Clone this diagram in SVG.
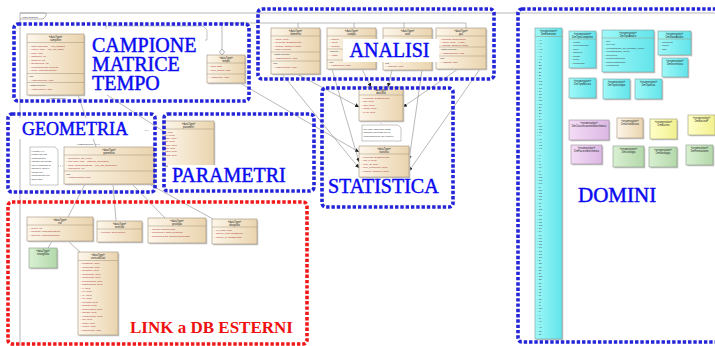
<svg xmlns="http://www.w3.org/2000/svg" width="715" height="346" viewBox="0 0 715 346">
<defs>
<linearGradient id="gB" x1="0" y1="0" x2="1" y2="0"><stop offset="0" stop-color="#fdf6ea"/><stop offset="1" stop-color="#ead4ae"/></linearGradient>
<linearGradient id="gC" x1="0" y1="0" x2="1" y2="0"><stop offset="0" stop-color="#9ff8f8"/><stop offset="1" stop-color="#62e4ea"/></linearGradient>
<linearGradient id="gP" x1="0" y1="0" x2="1" y2="0"><stop offset="0" stop-color="#f3dcf5"/><stop offset="1" stop-color="#dcb8e4"/></linearGradient>
<linearGradient id="gY" x1="0" y1="0" x2="1" y2="0"><stop offset="0" stop-color="#ffffc8"/><stop offset="1" stop-color="#f2f08e"/></linearGradient>
<linearGradient id="gG" x1="0" y1="0" x2="1" y2="0"><stop offset="0" stop-color="#d8f0d2"/><stop offset="1" stop-color="#b4d8aa"/></linearGradient>
<marker id="ar" viewBox="0 0 6 6" refX="6" refY="3" markerWidth="4" markerHeight="4" markerUnits="userSpaceOnUse" orient="auto"><path d="M0,0L6,3L0,6z" fill="#222"/></marker>
<style>
.box{fill:url(#gB);stroke:#a09078;stroke-width:.6}
.cy{fill:url(#gC);stroke:#7f9c9c;stroke-width:.6}
.pk{fill:url(#gP);stroke:#9a8a9a;stroke-width:.6}
.yl{fill:url(#gY);stroke:#9a9a7a;stroke-width:.6}
.gr{fill:url(#gG);stroke:#8a9a8a;stroke-width:.6}
.sh{fill:#c6c6c6}
.note{fill:#fff;stroke:#888;stroke-width:.5}
.st{font-family:"Liberation Sans",sans-serif;font-size:2.6px;fill:#222;text-anchor:middle}
.at{font-family:"Liberation Sans",sans-serif;font-size:2.5px;fill:#a83232}
.nt{font-family:"Liberation Sans",sans-serif;font-size:2.5px;fill:#333}
.sp{stroke:#a09078;stroke-width:.5}
.z{fill:none;stroke:#2424d8;stroke-width:3.6;stroke-dasharray:3.4 1.9}
.zr{fill:none;stroke:#f01818;stroke-width:3.6;stroke-dasharray:3.4 1.9}
.lb{font-family:"Liberation Serif",serif;font-size:20px;fill:#0a0af0;stroke:#0a0af0;stroke-width:.45}
.lr{font-family:"Liberation Serif",serif;font-size:17px;font-weight:bold;fill:#ee1010}
.wb{fill:#fff}
.cn{fill:none;stroke:#8a8a8a;stroke-width:.6}
.dl{fill:none;stroke:#8a8a8a;stroke-width:.5;stroke-dasharray:1 1}
.fr{fill:none;stroke:#9a9a9a;stroke-width:.7}
</style>
</defs>
<rect width="715" height="346" fill="#fff"/>

<g id="frame">
<path class="fr" d="M20,346V13H715"/>
<path class="fr" d="M20,13h26v3l-3,3h-23"/>
<text x="22" y="17.5" class="nt">class gestione</text>
</g>

<g id="connectors">
<path class="cn" d="M222,49V23H466"/>
<path class="cn" d="M298,23V28M354,23V28M404,23V28M466,23V28"/>
<polygon points="222,49 224.5,52 222,55 219.5,52" fill="#fff" stroke="#777" stroke-width=".6"/>
<path class="cn" d="M78,95L96,147"/>
<path class="cn" d="M107,95L163,131"/>
<path class="cn" d="M240,83L359,152" marker-end="url(#ar)"/>
<path class="cn" d="M297,74L359,107" marker-end="url(#ar)"/>
<path class="cn" d="M282,74L359,168" marker-end="url(#ar)"/>
<path class="cn" d="M332,69L359,162" marker-end="url(#ar)"/>
<path class="cn" d="M362,69L371,87" marker-end="url(#ar)"/>
<path class="cn" d="M392,70L388,87" marker-end="url(#ar)"/>
<path class="cn" d="M422,70L409,160" marker-end="url(#ar)"/>
<path class="cn" d="M458,69L403,107" marker-end="url(#ar)"/>
<path class="cn" d="M480,69L409,171" marker-end="url(#ar)"/>
<path class="dl" d="M381,121V125"/>
<path class="dl" d="M58,166H64"/>
<path class="cn" d="M85,184L68,217M113,184L116,221M132,184L165,218M149,184L213,219"/>
<path class="cn" d="M52,241L48,248M68,241L80,252"/>
</g>

<g id="campione">
<rect class="sh" x="28.3" y="35.3" width="57" height="61"/>
<rect class="box" x="27" y="34" width="57" height="61"/>
<text class="st" x="55.5" y="37.6">«dataType»</text>
<text class="st" x="55.5" y="40.8">campione</text>
<path class="sp" d="M27,42.5H84M27,73.5H84M27,82.5H84"/>
<text class="at" x="29" y="46.5">+ data: DateTime = cod_dataset</text>
<text class="at" x="29" y="50">+ codice: char = cod_cls_datas...</text>
<text class="at" x="29" y="53.5">+ peso: char</text>
<text class="at" x="29" y="57">+ dataInizio: int</text>
<text class="at" x="29" y="60.5">+ dataFine: int</text>
<text class="at" x="29" y="64">+ IDcampione: int</text>
<text class="at" x="29" y="67.5">+ riconoscimento: boolean</text>
<text class="at" x="29" y="71">+ nome: CharacterString</text>
<text class="nt" x="29" y="77">xsd:</text>
<text class="at" x="29" y="80.5">+ XSDcampione: char</text>
<text class="nt" x="29" y="86">«datatypeProp»</text>
<text class="at" x="29" y="89.5">+ XSDtematico: char</text>
<text class="nt" x="48" y="99">«XSDsequence»</text>
<text class="nt" x="80" y="99">0..*</text>
</g>

<g id="notaCampione">
<path class="note" d="M106,26H203L207,30V40H106Z"/>
</g>

<g id="tempo">
<rect class="sh" x="208.3" y="56.3" width="38" height="28"/>
<rect class="box" x="207" y="55" width="38" height="28"/>
<text class="st" x="226" y="58.6">«dataType»</text>
<text class="st" x="226" y="61.6">tempo</text>
<path class="sp" d="M207,63H245M207,74H245"/>
<text class="at" x="208.5" y="67">+ data: Date</text>
<text class="at" x="208.5" y="70.5">+ rrum_analisi: char</text>
<text class="at" x="208.5" y="78">+ XSDtempo: char</text>
</g>

<g id="elemento">
<rect class="sh" x="272.3" y="29.3" width="49" height="46"/>
<rect class="box" x="271" y="28" width="49" height="46"/>
<text class="st" x="295.5" y="31.6">«dataType»</text>
<text class="st" x="295.5" y="34.6">elemento</text>
<path class="sp" d="M271,36H320M271,52H320M271,61H320"/>
<text class="at" x="273" y="39.5">+ valore: Real</text>
<text class="at" x="273" y="43">+ elemento: DmElemento</text>
<text class="at" x="273" y="46.5">+ metodo: DmTipoAnalisi</text>
<text class="at" x="273" y="50">+ unita: boolean</text>
<text class="nt" x="273" y="55">«datatypeProp»</text>
<text class="at" x="273" y="58.5">+ XSDsequence: char</text>
<text class="nt" x="273" y="64">xsd:</text>
<text class="at" x="273" y="67.5">+ XSDelemento: char</text>
</g>

<g id="isotopo">
<rect class="sh" x="328.3" y="29.3" width="49" height="41"/>
<rect class="box" x="327" y="28" width="49" height="41"/>
<text class="st" x="351.5" y="31.6">«dataType»</text>
<text class="st" x="351.5" y="34.6">isotopo</text>
<path class="sp" d="M327,36H376M327,49H376M327,60H376"/>
<text class="at" x="329" y="39.5">+ isotopo</text>
<text class="at" x="329" y="43">+ valore</text>
<text class="at" x="329" y="46.5">+ metodo</text>
<text class="nt" x="329" y="52">«dtProp»</text>
<text class="at" x="329" y="55.5">+ XSDs</text>
<text class="nt" x="329" y="63">xsd:</text>
<text class="at" x="329" y="66.3">+ XSDisotopo: char</text>
</g>

<g id="ratio">
<rect class="sh" x="384.3" y="29.3" width="49" height="42"/>
<rect class="box" x="383" y="28" width="49" height="42"/>
<text class="st" x="407.5" y="31.6">«dataType»</text>
<text class="st" x="407.5" y="34.6">ratio</text>
<path class="sp" d="M383,36H432M383,61H432"/>
<text class="nt" x="385" y="64">xsd:</text>
<text class="at" x="385" y="67.3">+ XSDratio: char</text>
</g>

<g id="gas">
<rect class="sh" x="437.3" y="29.3" width="50" height="41"/>
<rect class="box" x="436" y="28" width="50" height="41"/>
<text class="st" x="461" y="31.6">«dataType»</text>
<text class="st" x="461" y="34.6">gas</text>
<path class="sp" d="M436,36H486M436,47H486M436,56H486"/>
<text class="at" x="440" y="39.5">+ tipoGas: DmTipoGas</text>
<text class="at" x="440" y="43">+ valore: Real = 1,gas</text>
<text class="at" x="440" y="46">+ metodo: DmTipoAnalisi</text>
<text class="nt" x="440" y="50">«datatypeProp»</text>
<text class="at" x="440" y="53.5">+ XSDsequence: char</text>
<text class="nt" x="440" y="59">xsd:</text>
<text class="at" x="440" y="62.5">+ XSDgas: char</text>
</g>

<g id="datoStatistico">
<rect class="sh" x="360.3" y="88.3" width="44" height="34"/>
<rect class="box" x="359" y="87" width="44" height="34"/>
<text class="st" x="381" y="90.6">«dataType»</text>
<text class="st" x="381" y="93.6">datoStat</text>
<path class="sp" d="M359,95H403"/>
<text class="at" x="361" y="98.5">+ elemento: DmElemento</text>
<text class="at" x="361" y="102">+ min: Real</text>
<text class="at" x="361" y="105.5">+ max: Real</text>
<text class="at" x="361" y="109">+ media: Real</text>
<text class="at" x="361" y="112.5">+ MAD: Real</text>
</g>

<g id="notaStatistica">
<path class="note" d="M362,125H398L401,128V141H362Z"/>
<text class="nt" x="363.5" y="129.5">per ogni campione tratta</text>
<text class="nt" x="363.5" y="133">analitica calcolata per la</text>
<text class="nt" x="363.5" y="136.5">concentrazione del valore?</text>
</g>

<g id="datoRegressione">
<rect class="sh" x="360.3" y="147.3" width="50" height="31"/>
<rect class="box" x="359" y="146" width="50" height="31"/>
<text class="st" x="384" y="149.6">«dataType»</text>
<text class="st" x="384" y="152.6">statistica</text>
<path class="sp" d="M359,154H409"/>
<text class="at" x="361" y="157.5">+ elemento: DmElemento</text>
<text class="at" x="361" y="161">+ min_d: Real</text>
<text class="at" x="361" y="164.5">+ perc_dt: Real</text>
<text class="at" x="361" y="168">+ perc_fondovalle: Real</text>
<text class="at" x="361" y="171.5">+ metodo: DmTipoAnalisi</text>
</g>

<g id="notaGeometria">
<path class="note" d="M30,147H55L58,150V185H30Z"/>
<text class="nt" x="31.5" y="151.5">Il punto è (il</text>
<text class="nt" x="31.5" y="155">punto) ha una</text>
<text class="nt" x="31.5" y="158.5">informazione</text>
<text class="nt" x="31.5" y="162">rispetto alla quota</text>
<text class="nt" x="31.5" y="165.5">che in assenza di</text>
<text class="nt" x="31.5" y="169">altezza è nulla è</text>
<text class="nt" x="31.5" y="172.5">riferita per</text>
<text class="nt" x="31.5" y="176">informazione nel</text>
<text class="nt" x="31.5" y="179.5">DTM Stax</text>
</g>

<g id="geometria">
<rect class="sh" x="65.3" y="148.3" width="90" height="37"/>
<rect class="box" x="64" y="147" width="90" height="37"/>
<text class="st" x="109" y="150.6">«dataType»</text>
<text class="st" x="109" y="153.6">geometria</text>
<path class="sp" d="M64,155H154M64,171H154"/>
<text class="at" x="66" y="158.5">+ geometria: GM_Point</text>
<text class="at" x="66" y="162">+ Sys.SRS: char = sistema_geografico</text>
<text class="at" x="66" y="165.5">+ SRS: CharacterString = cod_srs_geografico</text>
<text class="at" x="66" y="169">+ estensione: int</text>
<text class="nt" x="66" y="174.5">xsd:</text>
<text class="at" x="66" y="178">+ XSDgeometria: char</text>
<text class="nt" x="76" y="145">«XSDsequence» 0..1</text>
</g>

<g id="parametri">
<rect class="sh" x="164.3" y="122.3" width="51" height="45"/>
<rect class="box" x="163" y="121" width="51" height="45"/>
<text class="st" x="188.5" y="124.6">«dataType»</text>
<text class="st" x="188.5" y="127.6">parametri</text>
<path class="sp" d="M163,129H214"/>
<text class="at" x="165" y="132.5">T: Real</text>
<text class="at" x="165" y="135.8">pH: Real</text>
<text class="at" x="165" y="139.1">TDS: Real</text>
<text class="at" x="165" y="142.4">Eh: Real</text>
<text class="at" x="165" y="145.7">ORP: Real</text>
<text class="at" x="165" y="149">DO: Real</text>
<text class="at" x="165" y="152.3">TOC: Real</text>
<text class="at" x="165" y="155.6">CO2: Real</text>
<text class="nt" x="145" y="131">0..*</text>
</g>

<g id="ext">
<rect class="sh" x="28.3" y="218.3" width="66" height="24"/>
<rect class="box" x="27" y="217" width="66" height="24"/>
<text class="st" x="60" y="220.6">«dataType»</text>
<text class="st" x="60" y="223.6">ext</text>
<path class="sp" d="M27,225H93"/>
<text class="at" x="29" y="228.5">+ pozzo: int</text>
<text class="at" x="29" y="232">+ sorgente: CharacterString</text>
<text class="at" x="29" y="235.5">+ stazione: CharacterString</text>
</g>

<g id="verticale">
<rect class="sh" x="98.3" y="222.3" width="45" height="21"/>
<rect class="box" x="97" y="221" width="45" height="21"/>
<text class="st" x="119.5" y="224.6">«dataType»</text>
<text class="st" x="119.5" y="227.6">verticale</text>
<path class="sp" d="M97,229H142"/>
<text class="at" x="99" y="233">+ verticale: DmVerticale</text>
</g>

<g id="geologia">
<rect class="sh" x="149.3" y="219.3" width="58" height="25"/>
<rect class="box" x="148" y="218" width="58" height="25"/>
<text class="st" x="177" y="221.6">«dataType»</text>
<text class="st" x="177" y="224.6">geologia</text>
<path class="sp" d="M148,226H206"/>
<text class="at" x="150" y="229.5">+ litologia: DmLitologia</text>
<text class="at" x="150" y="233">+ formazione: DmFormazione</text>
<text class="at" x="150" y="236.5">+ geomorfologia: DmGeomorfologia</text>
</g>

<g id="idrografia">
<rect class="sh" x="213.3" y="220.3" width="45" height="25"/>
<rect class="box" x="212" y="219" width="45" height="25"/>
<text class="st" x="234.5" y="222.6">«dataType»</text>
<text class="st" x="234.5" y="225.6">idrografia</text>
<path class="sp" d="M212,227H257"/>
<text class="at" x="214" y="230.5">+ id_corso: char</text>
<text class="at" x="214" y="234">+ bacino_prod: DmBacino</text>
<text class="at" x="214" y="237.5">+ bacino_pr: DmBacinoP</text>
</g>

<g id="stratigrafia">
<rect class="sh" x="30.3" y="249.3" width="28" height="20"/>
<rect class="gr" x="29" y="248" width="28" height="20"/>
<text class="st" x="43" y="252">«dataType»</text>
<text class="st" x="43" y="255">stratigrafia</text>
</g>

<g id="verticaleDati">
<rect class="sh" x="79.3" y="253.3" width="40" height="83"/>
<rect class="box" x="78" y="252" width="40" height="83"/>
<text class="st" x="98" y="255.6">«dataType»</text>
<text class="st" x="98" y="258.6">verticaleDati</text>
<path class="sp" d="M78,260.5H118"/>
<text class="at" x="80" y="264">+ pressione: Real</text>
<text class="at" x="80" y="267.5">+ profondita: Real</text>
<text class="at" x="80" y="271">+ spessore: Real</text>
<text class="at" x="80" y="274.5">+ quotaTetto: Real</text>
<text class="at" x="80" y="278">+ quotaLetto: Real</text>
<text class="at" x="80" y="281.5">+ permeabilita: Real</text>
<text class="at" x="80" y="285">+ trasmissivita: Real</text>
<text class="at" x="80" y="288.5">+ K: Real</text>
<text class="at" x="80" y="292">+ Kx: Real</text>
<text class="at" x="80" y="295.5">+ Ky: Real</text>
<text class="at" x="80" y="299">+ Kz: Real</text>
<text class="at" x="80" y="302.5">+ porosita: Real</text>
<text class="at" x="80" y="306">+ densita: Real</text>
<text class="at" x="80" y="309.5">+ temperatura: Real</text>
<text class="at" x="80" y="313">+ salinita: Real</text>
<text class="at" x="80" y="316.5">+ conducibilita: Real</text>
<text class="at" x="80" y="320">+ eta: Real</text>
<text class="at" x="80" y="323.5">+ strato: Real</text>
<text class="at" x="80" y="327">+ codice: char</text>
<text class="at" x="80" y="330.5">+ descrizione: char</text>
</g>

<g id="DmElemento">
<rect class="sh" x="536.3" y="29.3" width="27" height="311"/>
<rect class="cy" x="535" y="28" width="27" height="311"/>
<text class="st" x="548.5" y="31.5">«enumeration»</text>
<text class="st" x="548.5" y="34.5">DmElemento</text>
<path class="sp" d="M535,36.5H562"/>
<text class="nt" x="537" y="40.5" style="font-size:2.3px"><tspan x="537" dy="0">+ Ac</tspan><tspan x="537" dy="3.2">+ Ag</tspan><tspan x="537" dy="3.2">+ Al</tspan><tspan x="537" dy="3.2">+ Am</tspan><tspan x="537" dy="3.2">+ Ar</tspan><tspan x="537" dy="3.2">+ As</tspan><tspan x="537" dy="3.2">+ Au</tspan><tspan x="537" dy="3.2">+ B</tspan><tspan x="537" dy="3.2">+ Ba</tspan><tspan x="537" dy="3.2">+ Be</tspan><tspan x="537" dy="3.2">+ Bi</tspan><tspan x="537" dy="3.2">+ Br</tspan><tspan x="537" dy="3.2">+ C</tspan><tspan x="537" dy="3.2">+ Ca</tspan><tspan x="537" dy="3.2">+ Cd</tspan><tspan x="537" dy="3.2">+ Ce</tspan><tspan x="537" dy="3.2">+ Cl</tspan><tspan x="537" dy="3.2">+ Co</tspan><tspan x="537" dy="3.2">+ Cr</tspan><tspan x="537" dy="3.2">+ Cs</tspan><tspan x="537" dy="3.2">+ Cu</tspan><tspan x="537" dy="3.2">+ Dy</tspan><tspan x="537" dy="3.2">+ Er</tspan><tspan x="537" dy="3.2">+ Eu</tspan><tspan x="537" dy="3.2">+ F</tspan><tspan x="537" dy="3.2">+ Fe</tspan><tspan x="537" dy="3.2">+ Fr</tspan><tspan x="537" dy="3.2">+ Ga</tspan><tspan x="537" dy="3.2">+ Gd</tspan><tspan x="537" dy="3.2">+ Ge</tspan><tspan x="537" dy="3.2">+ H</tspan><tspan x="537" dy="3.2">+ He</tspan><tspan x="537" dy="3.2">+ Hf</tspan><tspan x="537" dy="3.2">+ Hg</tspan><tspan x="537" dy="3.2">+ Ho</tspan><tspan x="537" dy="3.2">+ I</tspan><tspan x="537" dy="3.2">+ In</tspan><tspan x="537" dy="3.2">+ Ir</tspan><tspan x="537" dy="3.2">+ K</tspan><tspan x="537" dy="3.2">+ Kr</tspan><tspan x="537" dy="3.2">+ La</tspan><tspan x="537" dy="3.2">+ Li</tspan><tspan x="537" dy="3.2">+ Lu</tspan><tspan x="537" dy="3.2">+ Mg</tspan><tspan x="537" dy="3.2">+ Mn</tspan><tspan x="537" dy="3.2">+ Mo</tspan><tspan x="537" dy="3.2">+ N</tspan><tspan x="537" dy="3.2">+ Na</tspan><tspan x="537" dy="3.2">+ Nb</tspan><tspan x="537" dy="3.2">+ Nd</tspan><tspan x="537" dy="3.2">+ Ne</tspan><tspan x="537" dy="3.2">+ Ni</tspan><tspan x="537" dy="3.2">+ O</tspan><tspan x="537" dy="3.2">+ Os</tspan><tspan x="537" dy="3.2">+ P</tspan><tspan x="537" dy="3.2">+ Pa</tspan><tspan x="537" dy="3.2">+ Pb</tspan><tspan x="537" dy="3.2">+ Pd</tspan><tspan x="537" dy="3.2">+ Pm</tspan><tspan x="537" dy="3.2">+ Po</tspan><tspan x="537" dy="3.2">+ Pr</tspan><tspan x="537" dy="3.2">+ Pt</tspan><tspan x="537" dy="3.2">+ Pu</tspan><tspan x="537" dy="3.2">+ Ra</tspan><tspan x="537" dy="3.2">+ Rb</tspan><tspan x="537" dy="3.2">+ Re</tspan><tspan x="537" dy="3.2">+ Rh</tspan><tspan x="537" dy="3.2">+ Rn</tspan><tspan x="537" dy="3.2">+ Ru</tspan><tspan x="537" dy="3.2">+ S</tspan><tspan x="537" dy="3.2">+ Sb</tspan><tspan x="537" dy="3.2">+ Sc</tspan><tspan x="537" dy="3.2">+ Se</tspan><tspan x="537" dy="3.2">+ Si</tspan><tspan x="537" dy="3.2">+ Sm</tspan><tspan x="537" dy="3.2">+ Sn</tspan><tspan x="537" dy="3.2">+ Sr</tspan><tspan x="537" dy="3.2">+ Ta</tspan><tspan x="537" dy="3.2">+ Tb</tspan><tspan x="537" dy="3.2">+ Tc</tspan><tspan x="537" dy="3.2">+ Te</tspan><tspan x="537" dy="3.2">+ Th</tspan><tspan x="537" dy="3.2">+ Ti</tspan><tspan x="537" dy="3.2">+ Tl</tspan><tspan x="537" dy="3.2">+ Tm</tspan><tspan x="537" dy="3.2">+ U</tspan><tspan x="537" dy="3.2">+ V</tspan><tspan x="537" dy="3.2">+ W</tspan><tspan x="537" dy="3.2">+ Xe</tspan><tspan x="537" dy="3.2">+ Y</tspan><tspan x="537" dy="3.2">+ Yb</tspan><tspan x="537" dy="3.2">+ Zn</tspan><tspan x="537" dy="3.2">+ Zr</tspan></text>
</g>

<g id="DmTipoCampione">
<rect class="sh" x="570.3" y="32.3" width="27" height="37"/>
<rect class="cy" x="569" y="31" width="27" height="37"/>
<text class="st" x="582.5" y="34.5">«enumeration»</text>
<text class="st" x="582.5" y="37.5">DmTipoCampione</text>
<path class="sp" d="M569,39H596"/>
<text class="nt" x="571" y="42.5">+ acqua</text>
<text class="nt" x="571" y="46">+ precipitazione</text>
<text class="nt" x="571" y="49.5">+ neve</text>
<text class="nt" x="571" y="53">+ ghiaccio</text>
<text class="nt" x="571" y="56.5">+ fanghi</text>
<text class="nt" x="571" y="60">+ suolo</text>
<text class="nt" x="571" y="63.5">+ sedimento</text>
</g>

<g id="DmTipoAnalisi">
<rect class="sh" x="603.3" y="31.3" width="52" height="42"/>
<rect class="cy" x="602" y="30" width="52" height="42"/>
<text class="st" x="628" y="33.5">«enumeration»</text>
<text class="st" x="628" y="36.5">DmTipoAnalisi</text>
<path class="sp" d="M602,38H654"/>
<text class="nt" x="604" y="41.5">+ ICP</text>
<text class="nt" x="604" y="45">+ ICP-MS</text>
<text class="nt" x="604" y="48.5">+ cromatografia_ad_scambio_ionico</text>
<text class="nt" x="604" y="52">+ cromatografia_ionica</text>
<text class="nt" x="604" y="55.5">+ titolazione</text>
<text class="nt" x="604" y="59">+ spettrofotometria</text>
<text class="nt" x="604" y="62.5">+ gascromatografia</text>
<text class="nt" x="604" y="66">+ conduttivita</text>
</g>

<g id="DmStatoAnalisi">
<rect class="sh" x="659.3" y="32.3" width="33" height="24"/>
<rect class="cy" x="658" y="31" width="33" height="24"/>
<text class="st" x="674.5" y="34.5">«enumeration»</text>
<text class="st" x="674.5" y="37.5">DmStatoAnalisi</text>
<path class="sp" d="M658,39H691"/>
<text class="nt" x="660" y="42.5">+ sedimenti</text>
<text class="nt" x="660" y="46">+ acque</text>
<text class="nt" x="660" y="49.5">+ gas</text>
</g>

<g id="DmIncertezza">
<rect class="sh" x="663.3" y="59.3" width="26" height="19"/>
<rect class="cy" x="662" y="58" width="26" height="19"/>
<text class="st" x="675" y="62">«enumeration»</text>
<text class="st" x="675" y="65">DmIncertezza</text>
</g>

<g id="DmTipoMisura">
<rect class="sh" x="570.3" y="79.3" width="27" height="20"/>
<rect class="cy" x="569" y="78" width="27" height="20"/>
<text class="st" x="582.5" y="82">«enumeration»</text>
<text class="st" x="582.5" y="85">DmTipoMisura</text>
</g>

<g id="DmTipoIsotopo">
<rect class="sh" x="604.3" y="80.3" width="27" height="20"/>
<rect class="cy" x="603" y="79" width="27" height="20"/>
<text class="st" x="616.5" y="83">«enumeration»</text>
<text class="st" x="616.5" y="86">DmTipoIsotopo</text>
</g>

<g id="DmTipoGas">
<rect class="sh" x="636.3" y="80.3" width="27" height="20"/>
<rect class="cy" x="635" y="79" width="27" height="20"/>
<text class="st" x="648.5" y="83">«enumeration»</text>
<text class="st" x="648.5" y="86">DmTipoGas</text>
</g>

<g id="DmClassificazione">
<rect class="sh" x="570.3" y="121.3" width="40" height="20"/>
<rect class="pk" x="569" y="120" width="40" height="20"/>
<text class="st" x="589" y="124">«enumeration»</text>
<text class="st" x="589" y="127">DmClassificazioneIdrochimica</text>
</g>

<g id="DmUnitaMisura">
<rect class="sh" x="618.3" y="119.3" width="26" height="20"/>
<rect class="box" x="617" y="118" width="26" height="20"/>
<text class="st" x="630" y="122">«enumeration»</text>
<text class="st" x="630" y="125">DmUnitaMisura</text>
</g>

<g id="DmBacino">
<rect class="sh" x="651.3" y="120.3" width="27" height="20"/>
<rect class="yl" x="650" y="119" width="27" height="20"/>
<text class="st" x="663.5" y="123">«enumeration»</text>
<text class="st" x="663.5" y="126">DmBacino</text>
</g>

<g id="DmBacinoP">
<rect class="sh" x="689.3" y="116.3" width="27" height="20"/>
<rect class="yl" x="688" y="115" width="27" height="20"/>
<text class="st" x="701.5" y="119">«enumeration»</text>
<text class="st" x="701.5" y="122">DmBacinoP</text>
</g>

<g id="DmFacies">
<rect class="sh" x="572.3" y="146.3" width="31" height="19"/>
<rect class="pk" x="571" y="145" width="31" height="19"/>
<text class="st" x="586.5" y="149">«enumeration»</text>
<text class="st" x="586.5" y="152">DmFaciesIdrochimica</text>
</g>

<g id="DmLitologia">
<rect class="sh" x="614.3" y="147.3" width="31" height="21"/>
<rect class="gr" x="613" y="146" width="31" height="21"/>
<text class="st" x="628.5" y="150">«enumeration»</text>
<text class="st" x="628.5" y="153">DmLitologia</text>
</g>

<g id="DmGeologia">
<rect class="sh" x="650.3" y="148.3" width="28" height="20"/>
<rect class="gr" x="649" y="147" width="28" height="20"/>
<text class="st" x="663" y="151">«enumeration»</text>
<text class="st" x="663" y="154">DmGeologia</text>
</g>

<g id="DmFormazione">
<rect class="sh" x="687.3" y="146.3" width="27" height="20"/>
<rect class="gr" x="686" y="145" width="27" height="20"/>
<text class="st" x="699.5" y="149">«enumeration»</text>
<text class="st" x="699.5" y="152">DmFormazione</text>
</g>

<g id="labels">
<rect class="wb" x="86" y="29" width="119" height="63"/>
<text class="lb"><tspan x="92" y="52">CAMPIONE</tspan><tspan x="92" y="71">MATRICE</tspan><tspan x="92" y="89.5">TEMPO</tspan></text>
<rect class="wb" x="343" y="39" width="96" height="23"/>
<text class="lb" x="349.5" y="57">ANALISI</text>
<rect class="wb" x="19" y="118" width="112" height="21"/>
<text class="lb" x="22" y="135" style="font-size:18px">GEOMETRIA</text>
<rect class="wb" x="168" y="165" width="124" height="22"/>
<text class="lb" x="172" y="182">PARAMETRI</text>
<text class="lb" x="328" y="193">STATISTICA</text>
<text class="lb" x="578" y="202" style="font-size:21px">DOMINI</text>
<text class="lr" x="130" y="333">LINK a DB ESTERNI</text>
</g>

<g id="zones">
<rect class="z" x="14" y="24" width="235" height="77" rx="4"/>
<rect class="z" x="258" y="9" width="236" height="70" rx="4"/>
<rect class="z" x="8" y="114" width="147" height="78" rx="4"/>
<rect class="z" x="164" y="114" width="150" height="77" rx="4"/>
<rect class="z" x="322" y="88" width="131" height="119" rx="4"/>
<rect class="z" x="518" y="9" width="205" height="333" rx="4"/>
<rect class="zr" x="8" y="202" width="299" height="142" rx="4"/>
</g>
</svg>
